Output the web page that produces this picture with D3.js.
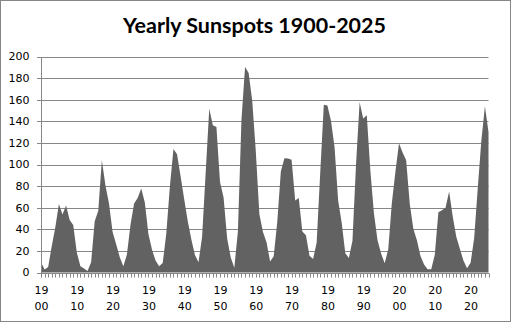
<!DOCTYPE html>
<html>
<head>
<meta charset="utf-8">
<script src="https://cdn.jsdelivr.net/npm/d3@7"></script>
<style>
  html, body { margin: 0; padding: 0; background: #fff; }
  svg { display: block; }
</style>
</head>
<body>
<svg id="chart" width="514" height="323"></svg>
<script>
// Yearly mean sunspot numbers, 1900-2025
const years = d3.range(1900, 2026);
const sunspots = [
  9.5, 2.7, 5.0, 24.4, 42.0, 63.5, 53.8, 62.0, 48.5, 43.9,
  18.6, 5.7, 3.6, 1.4, 9.6, 47.4, 57.1, 103.9, 80.6, 63.6,
  37.6, 26.1, 14.2, 5.8, 16.7, 44.3, 63.9, 69.0, 77.8, 64.9,
  35.7, 21.2, 11.1, 5.7, 8.7, 36.1, 79.7, 114.4, 109.6, 88.8,
  67.8, 47.5, 30.6, 16.3, 9.6, 33.2, 92.6, 151.6, 136.3, 134.7,
  83.9, 69.4, 31.5, 13.9, 4.4, 38.0, 141.7, 190.2, 184.8, 159.0,
  112.3, 53.9, 37.6, 27.9, 10.2, 15.1, 47.0, 93.8, 105.9, 105.5,
  104.5, 66.6, 68.9, 38.0, 34.5, 15.5, 12.6, 27.5, 92.5, 155.4,
  154.6, 140.4, 115.9, 66.6, 45.9, 17.9, 13.4, 29.4, 100.2, 157.6,
  142.6, 145.7, 94.3, 54.6, 29.9, 17.5, 8.6, 21.5, 64.3, 93.3,
  119.6, 111.0, 104.0, 63.7, 40.4, 29.8, 15.2, 7.5, 2.9, 3.1,
  16.5, 55.7, 57.6, 60.0, 75.0, 52.0, 33.0, 22.0, 11.0, 4.0,
  9.0, 32.0, 78.0, 122.0, 154.0, 130.0
];
const yTicks = [0, 20, 40, 60, 80, 100, 120, 140, 160, 180, 200];
const labelYears = d3.range(1900, 2021, 10);
const title = "Yearly Sunspots 1900-2025";

const svg = d3.select("#chart");
const plotLeft = 41, plotRight = 488.5, plotTop = 56.5, plotBottom = 272.5;

// outer frame
svg.append("rect")
  .attr("x", 0.5).attr("y", 0.5)
  .attr("width", 510).attr("height", 321)
  .attr("fill", "#fff").attr("stroke", "#868686").attr("stroke-width", 1);

const x = d3.scalePoint().domain(years).range([plotLeft, plotRight]);
const y = d3.scaleLinear().domain([0, 200]).range([plotBottom, plotTop]);

// horizontal gridlines with outside ticks on the value axis
const grid = svg.append("g");
yTicks.forEach(t => {
  const yy = Math.round(y(t)) + 0.5;
  grid.append("line")
    .attr("x1", plotLeft - 4).attr("x2", plotRight)
    .attr("y1", yy).attr("y2", yy)
    .attr("stroke", "#878787").attr("stroke-width", 1);
});

// area
const area = d3.area()
  .x((d, i) => x(years[i]))
  .y0(y(0))
  .y1(d => y(d));
svg.append("path")
  .datum(sunspots)
  .attr("d", area)
  .attr("fill", "#626262");

// value axis line
svg.append("line")
  .attr("x1", plotLeft + 0.5).attr("x2", plotLeft + 0.5)
  .attr("y1", Math.round(y(200)) + 0.5).attr("y2", Math.round(y(0)) + 0.5)
  .attr("stroke", "#878787");

// value axis labels
svg.append("g").selectAll("text")
  .data(yTicks).join("text")
  .attr("x", 29.5)
  .attr("y", d => y(d))
  .attr("dy", "0.35em")
  .attr("text-anchor", "end")
  .attr("font-family", "DejaVu Sans, sans-serif")
  .attr("font-size", 11)
  .attr("fill", "#000")
  .text(d => d);

// category axis: baseline and a tick for every year
const y0 = Math.round(y(0)) + 0.5;
svg.append("line")
  .attr("x1", plotLeft).attr("x2", plotRight + 0.5)
  .attr("y1", y0).attr("y2", y0)
  .attr("stroke", "#878787");
svg.append("g").selectAll("line")
  .data(years).join("line")
  .attr("x1", d => Math.round(x(d)) + 0.5)
  .attr("x2", d => Math.round(x(d)) + 0.5)
  .attr("y1", y0).attr("y2", y0 + 4)
  .attr("stroke", "#878787");

// decade labels split over two lines
const lab = svg.append("g").selectAll("text")
  .data(labelYears).join("text")
  .attr("text-anchor", "middle")
  .attr("font-family", "DejaVu Sans, sans-serif")
  .attr("font-size", 11)
  .attr("fill", "#000");
lab.append("tspan").attr("x", d => x(d) + 0.5).attr("y", 294).text(d => String(d).slice(0, 2));
lab.append("tspan").attr("x", d => x(d) + 0.5).attr("y", 310).text(d => String(d).slice(2));

// title
const tt = svg.append("text")
  .attr("x", 254.5).attr("y", 33)
  .attr("text-anchor", "middle")
  .attr("font-family", "Lato, 'Open Sans', sans-serif")
  .attr("font-weight", "bold")
  .attr("font-size", 23)
  .attr("fill", "#000")
  .text(title);
const tw = tt.node().getComputedTextLength();
tt.attr("font-size", 23 * 263 / tw);
</script>
</body>
</html>
